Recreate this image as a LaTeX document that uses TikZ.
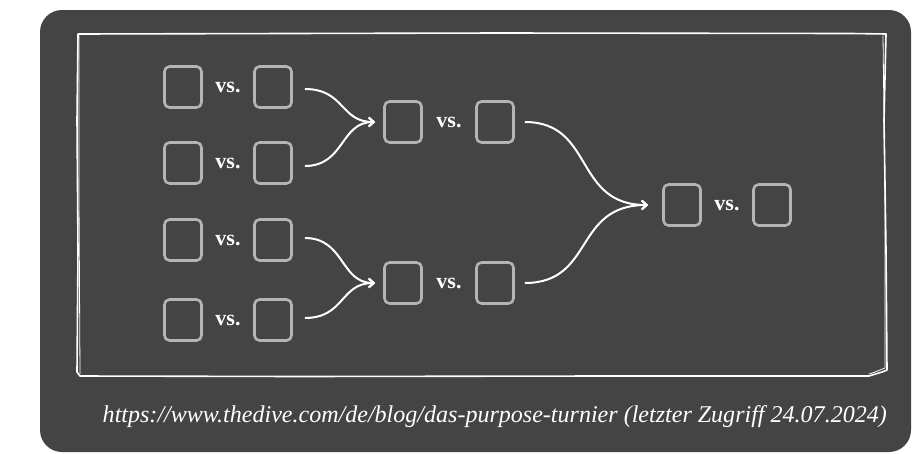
\documentclass[tikz,border=0pt]{standalone}
\usepackage{fontspec}
\usepackage{graphicx}
\setmainfont{Liberation Serif}
\usetikzlibrary{arrows.meta}
\definecolor{panel}{HTML}{444444}
\definecolor{boxgray}{HTML}{B4B4B4}
\tikzset{
  slot/.style={draw=boxgray, line width=2.6pt, rounded corners=5pt, minimum width=37pt, minimum height=41pt, inner sep=0pt},
  vstext/.style={text=white, font=\bfseries\fontsize{22}{24}\selectfont, inner sep=0pt},
  conn/.style={draw=white, line width=2pt, -{Straight Barb[length=5pt,width=9pt,line width=2pt]}},
  sketch/.style={draw=white, line width=1.6pt, line cap=round, line join=round}
}
\begin{document}
\begin{tikzpicture}[x=1pt,y=-1pt]
\useasboundingbox (0,0) rectangle (912,453);
\fill[white] (0,0) rectangle (912,453);
\fill[panel, rounded corners=22pt] (40,10) rectangle (911,452);
% sketchy frame
\draw[sketch] (78,34) -- (500,33) -- (852,33.5) -- (886,34) -- (884,120) -- (886,250) -- (887,370) -- (882,372) -- (869,376) -- (600,376) -- (300,376.5) -- (80,376) -- (77,372) -- (78,250) -- (77,120) -- cycle;
\draw[sketch, line width=0.8pt] (79,36) -- (79,200) -- (80,374);
\draw[sketch, line width=0.8pt] (883,36) -- (885,200) -- (885,368) -- (875,372) -- (869,374);
% round 1
\node[slot] (a1) at (183,87) {};
\node[vstext] (v1) at (228,87) {vs.};
\node[slot] (b1) at (273,87) {};
\node[slot] (a2) at (183,163) {};
\node[vstext] (v2) at (228,163) {vs.};
\node[slot] (b2) at (273,163) {};
\node[slot] (a3) at (183,240) {};
\node[vstext] (v3) at (228,240) {vs.};
\node[slot] (b3) at (273,240) {};
\node[slot] (a4) at (183,320) {};
\node[vstext] (v4) at (228,320) {vs.};
\node[slot] (b4) at (273,320) {};
% round 2
\node[slot] (c1) at (403,122) {};
\node[vstext] (w1) at (449,122) {vs.};
\node[slot] (d1) at (495,122) {};
\node[slot] (c2) at (403,283) {};
\node[vstext] (w2) at (449,283) {vs.};
\node[slot] (d2) at (495,283) {};
% final
\node[slot] (e1) at (682,205) {};
\node[vstext] (x1) at (727,205) {vs.};
\node[slot] (f1) at (772,205) {};
% connectors
\coordinate (m1) at ([xshift=-8pt]c1.west);
\coordinate (m2) at ([xshift=-8pt]c2.west);
\coordinate (m3) at ([xshift=-14pt]e1.west);
\draw[conn] ([xshift=12pt,yshift=-2pt]b1.east) .. controls +(40,0) and +(-35,0) .. (m1);
\draw[conn] ([xshift=12pt,yshift=-3pt]b2.east) .. controls +(40,0) and +(-35,0) .. (m1);
\draw[conn] ([xshift=12pt,yshift=2pt]b3.east) .. controls +(40,0) and +(-35,0) .. (m2);
\draw[conn] ([xshift=12pt,yshift=2pt]b4.east) .. controls +(40,0) and +(-35,0) .. (m2);
\draw[conn] ([xshift=10pt]d1.east) .. controls +(70,0) and +(-75,0) .. (m3);
\draw[conn] ([xshift=10pt]d2.east) .. controls +(70,0) and +(-75,0) .. (m3);
% caption
\node[text=white, anchor=east, inner sep=0pt] (cap) at (887,417) {\resizebox{784pt}{!}{\itshape\fontsize{20}{22}\selectfont https://www.thedive.com/de/blog/das-purpose-turnier (letzter Zugriff 24.07.2024)}};
\end{tikzpicture}
\end{document}
